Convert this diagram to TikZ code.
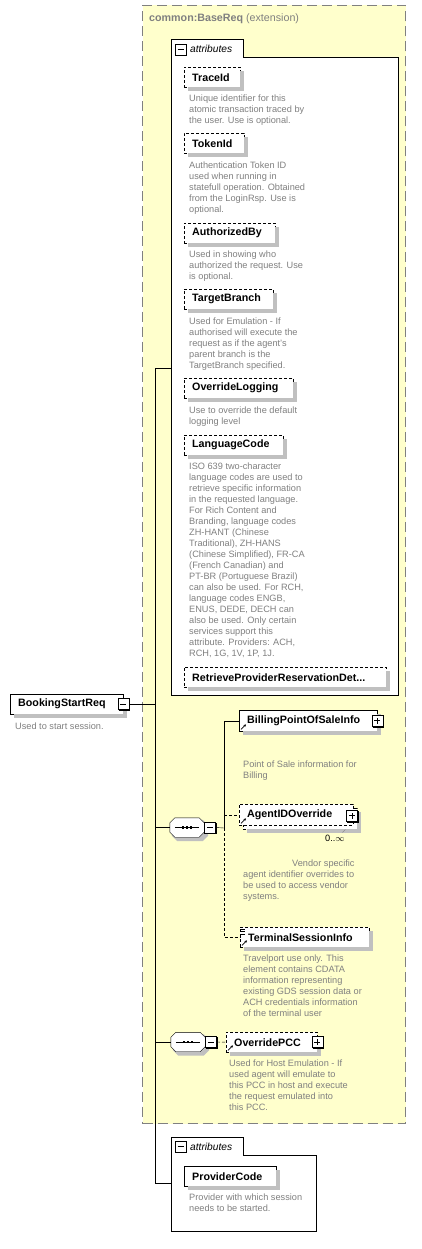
\documentclass[tikz,border=0pt]{standalone}
\usepackage{fontspec}
\setmainfont{Liberation Sans}
\usetikzlibrary{arrows.meta}
\definecolor{extyellow}{HTML}{FFFFCC}
\definecolor{docgray}{HTML}{808080}
\definecolor{castgray}{HTML}{C0C0C0}
\pgfdeclarelayer{back}
\pgfsetlayers{back,main}
% a box with its gray shadow, and a toggle with its thin black one
\newcommand\shadowed[4]{%
  \node[#1] (#2) at #3 {#4};
  \draw[castgray,line width=4pt,line join=miter]
    ([shift={(4pt,-2pt)}]#2.south west) -| ([shift={(2pt,-4pt)}]#2.north east);}
\newcommand\togglenode[3]{%
  \node[#1] (#2) at #3 {};
  \draw[line width=1pt] ([shift={(1pt,-0.5pt)}]#2.south west) -| ([shift={(0.5pt,-1pt)}]#2.north east);}
% octagon outline round a sequence node
\newcommand\octagonof[2]{\path[#2] ([xshift=5pt]#1.north west) -- ([xshift=-5pt]#1.north east)
  -- ([yshift=-5pt]#1.north east) -- ([yshift=5pt]#1.south east) -- ([xshift=-5pt]#1.south east)
  -- ([xshift=5pt]#1.south west) -- ([yshift=5pt]#1.south west) -- ([yshift=-5pt]#1.north west) -- cycle;}
\newcommand\drawseq[1]{%
  \node[seqnode,xshift=3pt,yshift=-3pt] (#1-sh) at (#1) {};
  \octagonof{#1-sh}{fill=castgray,draw=castgray,line width=2pt}
  \octagonof{#1}{draw,fill=white}
  \draw ([xshift=5pt]#1.west) -- ([xshift=-5pt]#1.east);
  \foreach \dx in {-4,0,4}
    \fill ([xshift=\dx pt]#1.center) ++(-1.3pt,-1.3pt) rectangle ++(2.6pt,2.6pt);}

\begin{document}
\begin{tikzpicture}[x=1pt,y=-1pt,
    box/.style={draw,fill=white,anchor=north west,inner xsep=8pt,inner ysep=0pt,
      minimum height=20pt,text width=#1,align=left,font=\fontsize{10.7}{12}\selectfont\bfseries},
    optbox/.style={box=#1,dash pattern=on 3pt off 2pt},
    doc/.style={anchor=north west,inner sep=0pt,align=left,text=docgray,font=\fontsize{9.2}{11}\selectfont},
    toggle/.style={draw,fill=white,minimum size=11pt,inner sep=0pt,line width=0.8pt},
    collapse/.style={toggle,path picture={
        \draw ([xshift=2.5pt]path picture bounding box.west) -- ([xshift=-2.5pt]path picture bounding box.east);}},
    expand/.style={toggle,path picture={
        \draw ([xshift=2.5pt]path picture bounding box.west) -- ([xshift=-2.5pt]path picture bounding box.east);
        \draw ([yshift=2.5pt]path picture bounding box.south) -- ([yshift=-2.5pt]path picture bounding box.north);}},
    seqnode/.style={minimum width=34pt,minimum height=19pt,inner sep=0pt},
    tabtext/.style={anchor=base west,inner sep=0pt,font=\fontsize{10.2}{12}\selectfont\itshape},
    refmark/.style={-{Stealth[length=2.6pt,width=2.6pt]},line width=0.8pt}
  ]

  \useasboundingbox (0,0) rectangle (422,1249);

  % extension frame and attribute groups
  \begin{pgfonlayer}{back}
    \fill[white] (0,0) rectangle (422,1249);
    \node[draw=docgray,fill=extyellow,line width=1pt,dash pattern=on 10pt off 5pt,
      anchor=north west,minimum width=263pt,minimum height=1118pt,inner sep=0pt] (ext) at (142,5) {};
    \draw[fill=white] (171,695) -- (171,39) -- (243,39) -- (243,57) -- (398,57) -- (398,695) -- cycle;
    \draw[fill=white] (171,1231) -- (171,1137) -- (243,1137) -- (243,1155) -- (316,1155) -- (316,1231) -- cycle;
  \end{pgfonlayer}
  \node[anchor=base west,inner sep=0pt,text=docgray,font=\fontsize{10.7}{12}\selectfont] (ext-title)
    at (149,22) {\textbf{common:BaseReq} (extension)};

  \node[anchor=north west,minimum width=227pt,minimum height=638pt,inner sep=0pt] (attrs) at (171,57) {};
  \node[collapse,line width=0.6pt] (attrs-tog) at (180.5,49.5) {};
  \node[tabtext] (attrs-text) at (190,52.5) {attributes};

  \node[anchor=north west,minimum width=145pt,minimum height=76pt,inner sep=0pt] (attrs2) at (171,1155) {};
  \node[collapse,line width=0.6pt] (attrs2-tog) at (180.5,1146.5) {};
  \node[tabtext] (attrs2-text) at (190,1150.7) {attributes};

  % attributes
  \shadowed{optbox=40pt}{traceid}{(184,67)}{TraceId}
  \node[doc] (traceid-doc) at (189,95) {Unique identifier for this\\atomic transaction traced by\\the user. Use is optional.};
  \shadowed{optbox=44pt}{tokenid}{(184,133)}{TokenId}
  \node[doc] (tokenid-doc) at (189,162) {Authentication Token ID\\used when running in\\statefull operation. Obtained\\from the LoginRsp. Use is\\optional.};
  \shadowed{optbox=75pt}{authby}{(184,223)}{AuthorizedBy}
  \node[doc] (authby-doc) at (189,251) {Used in showing who\\authorized the request. Use\\is optional.};
  \shadowed{optbox=73pt}{branch}{(184,289)}{TargetBranch}
  \node[doc] (branch-doc) at (189,318) {Used for Emulation - If\\authorised will execute the\\request as if the agent's\\parent branch is the\\TargetBranch specified.};
  \shadowed{optbox=93pt}{logging}{(184,378)}{OverrideLogging}
  \node[doc] (logging-doc) at (189,407) {Use to override the default\\logging level};
  \shadowed{optbox=83pt}{langcode}{(184,435)}{LanguageCode}
  \node[doc] (langcode-doc) at (189,463) {ISO 639 two-character\\language codes are used to\\retrieve specific information\\in the requested language.\\For Rich Content and\\Branding, language codes\\ZH-HANT (Chinese\\Traditional), ZH-HANS\\(Chinese Simplified), FR-CA\\(French Canadian) and\\PT-BR (Portuguese Brazil)\\can also be used. For RCH,\\language codes ENGB,\\ENUS, DEDE, DECH can\\also be used. Only certain\\services support this\\attribute. Providers: ACH,\\RCH, 1G, 1V, 1P, 1J.};
  \shadowed{optbox=186pt}{retrieve}{(184,667)}{RetrieveProviderReservationDet...}

  \shadowed{box=76pt}{provcode}{(184,1166)}{ProviderCode}
  \node[doc] (provcode-doc) at (189,1194) {Provider with which session\\needs to be started.};

  % root element
  \shadowed{box=97pt}{bsr}{(10,694)}{BookingStartReq}
  \togglenode{collapse}{bsr-tog}{(bsr.east)}
  \node[doc] (bsr-doc) at (15,723) {Used to start session.};

  % first sequence
  \node[seqnode] (seq1) at (187,827.5) {};
  \drawseq{seq1}
  \togglenode{collapse,anchor=west}{seq1-tog}{(seq1.east)}

  \shadowed{box=122pt,minimum height=21pt}{billing}{(239,710)}{BillingPointOfSaleInfo}
  \togglenode{expand}{billing-tog}{(billing.east)}
  \node[doc] (billing-doc) at (243,761) {Point of Sale information for\\Billing};

  \shadowed{optbox=98pt,minimum height=21pt}{agent-back}{(243,808)}{}
  \node[optbox=98pt,minimum height=21pt] (agent) at (239,804) {AgentIDOverride};
  \togglenode{expand}{agent-tog}{([xshift=-1.5pt,yshift=-1pt]agent.east)}
  \node[anchor=base west,inner sep=0pt,font=\fontsize{9.2}{11}\selectfont] (agent-occ) at (325,841) {0..$\infty$};
  \node[doc] (agent-doc) at (243,860) {\hspace*{49pt}Vendor specific\\agent identifier overrides to\\be used to access vendor\\systems.};

  \shadowed{optbox=113pt}{terminal}{(240,927)}{TerminalSessionInfo}
  \node[doc] (terminal-doc) at (243,955) {Travelport use only. This\\element contains CDATA\\information representing\\existing GDS session data or\\ACH credentials information\\of the terminal user};

  % second sequence
  \node[seqnode] (seq2) at (188,1042) {};
  \drawseq{seq2}
  \togglenode{collapse,anchor=west}{seq2-tog}{(seq2.east)}
  \shadowed{optbox=75pt}{pcc}{(226,1032)}{OverridePCC}
  \togglenode{expand}{pcc-tog}{(pcc.east)}
  \node[doc] (pcc-doc) at (229,1060) {Used for Host Emulation - If\\used agent will emulate to\\this PCC in host and execute\\the request emulated into\\this PCC.};

  % reference marks
  \draw[refmark] ([shift={(2pt,2pt)}]billing.south west) -- ++(5pt,5pt);
  \draw[refmark] ([shift={(2pt,2pt)}]agent.south west) -- ++(5pt,5pt);
  \draw[refmark] ([shift={(2pt,2pt)}]terminal.south west) -- ++(5pt,5pt);
  \draw[refmark] ([shift={(2pt,2pt)}]pcc.south west) -- ++(5pt,5pt);
  \foreach \dy in {2,4.5,7}
    \draw ([shift={(0pt,-\dy pt)}]terminal.north west) -- ++(5pt,0);
  \draw[docgray] ([xshift=-12pt]agent-back.south east) -- ++(-3pt,-3pt);

  % connectors
  \coordinate (bustop) at (155,368);
  \coordinate (busbot) at (155,1183);
  \coordinate (fork1) at (224,828);
  \path (bustop) edge (busbot);
  \draw (bustop) -- (bustop -| attrs.west);
  \draw (busbot) -- (busbot -| attrs2.west);
  \draw (bsr-tog.east) -- (bsr-tog.east -| bustop);
  \draw (seq1.west) -- (seq1.west -| bustop);
  \draw (seq2.west) -- (seq2.west -| bustop);
  \draw (seq1-tog.east) -- (fork1);
  \draw (fork1) |- (billing.west);
  \draw[dash pattern=on 3pt off 2pt] (fork1) |- (terminal.west);
  \draw[dash pattern=on 3pt off 2pt] (fork1 |- agent.west) -- (agent.west);
  \draw[dash pattern=on 3pt off 2pt] (seq2-tog.east) -- (pcc.west);

\end{tikzpicture}
\end{document}
